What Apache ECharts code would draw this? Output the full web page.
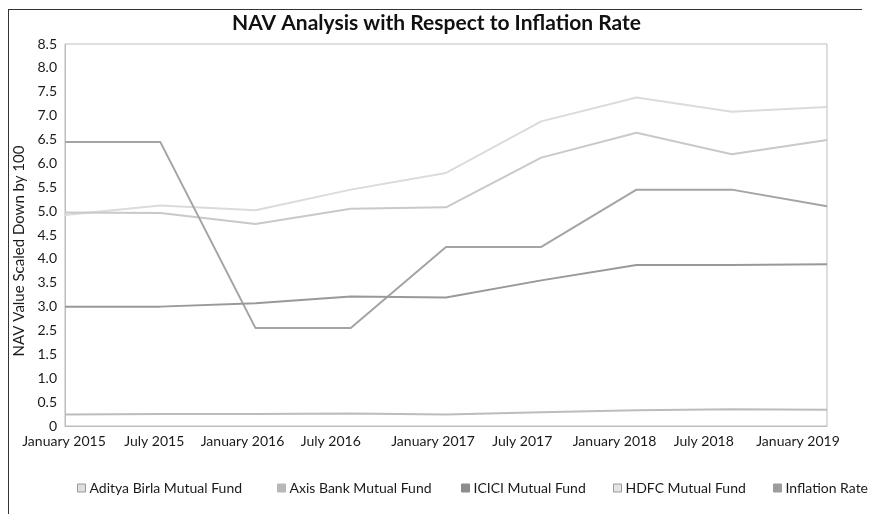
<!DOCTYPE html>
<html>
<head>
<meta charset="utf-8">
<script src="https://cdn.jsdelivr.net/npm/echarts@6/dist/echarts.min.js"></script>
<style>
  html, body { margin: 0; padding: 0; background: #fff; }
  #chart { width: 873px; height: 514px; }
</style>
</head>
<body>
<div id="chart"></div>
<script>
const categories = ['January 2015', 'July 2015', 'January 2016', 'July 2016', 'January 2017',
  'July 2017', 'January 2018', 'July 2018', 'January 2019']

// y tick labels as printed (note: 2.0 is skipped on the original axis)
const tickLabels = ['0', '0.5', '1.0', '1.5', '2.5', '3.0', '3.5', '4.0', '4.5', '5.0',
  '5.5', '6.0', '6.5', '7.0', '7.5', '8.0', '8.5']

const adityaBirla = [4.97, 4.96, 4.73, 5.05, 5.08, 6.12, 6.64, 6.19, 6.49]
const axisBank = [6.45, 6.45, 2.55, 2.55, 4.25, 4.25, 5.45, 5.45, 5.1]
const icici = [3.0, 3.0, 3.07, 3.21, 3.19, 3.55, 3.87, 3.87, 3.89]
const hdfc = [4.92, 5.12, 5.02, 5.45, 5.8, 6.88, 7.38, 7.08, 7.18]
const inflation = [0.24, 0.25, 0.25, 0.26, 0.24, 0.29, 0.33, 0.35, 0.34]

// the printed axis drops 2.0, so values above 1.5 sit half a step lower
function toAxis (v) {
  if (v <= 1.5) return v
  if (v >= 2.5) return v - 0.5
  return 1.5 + (v - 1.5) * 0.5
}

// how far each x label sits left of its data point (style only)
const labelShift = [2, 12, 26, 40, 26, 38, 44, 56, 58]

const font = 'Lato, "Open Sans", sans-serif'
const textColor = '#1a1a1a'

const seriesDefs = [
  { name: 'Aditya Birla Mutual Fund', data: adityaBirla, color: '#c9c9c9', z: 3 },
  { name: 'Axis Bank Mutual Fund', data: axisBank, color: '#a4a4a4', z: 4 },
  { name: 'ICICI Mutual Fund', data: icici, color: '#999999', z: 5 },
  { name: 'HDFC Mutual Fund', data: hdfc, color: '#dbdbdb', z: 2 },
  { name: 'Inflation Rate', data: inflation, color: '#bdbdbd', z: 1 }
]

const legendIcons = [
  { color: '#dedede', border: '#9a9a9a' },
  { color: '#b8b8b8', border: '#b8b8b8' },
  { color: '#8c8c8c', border: '#8c8c8c' },
  { color: '#e4e4e4', border: '#9a9a9a' },
  { color: '#9c9c9c', border: '#9c9c9c' }
]
const legendLeft = [72, 272, 456, 608, 768]

const rich = {}
labelShift.forEach((p, i) => {
  rich['o' + i] = { fontFamily: font, fontSize: 14, color: textColor, padding: [0, p, 0, 0] }
})

const chart = echarts.init(document.getElementById('chart'), null, { renderer: 'canvas' })

const option = {
  animation: false,
  backgroundColor: '#fff',
  title: {
    text: 'NAV Analysis with Respect to Inflation Rate',
    left: 'center',
    top: 8,
    textStyle: { fontFamily: font, fontSize: 21, fontWeight: 'bold', color: '#111' }
  },
  legend: seriesDefs.map((s, i) => ({
    data: [{
      name: s.name,
      itemStyle: { color: legendIcons[i].color, borderColor: legendIcons[i].border, borderWidth: 1 }
    }],
    left: legendLeft[i],
    top: 476,
    icon: 'rect',
    itemWidth: 8,
    itemHeight: 8,
    itemGap: 6,
    textStyle: { fontFamily: font, fontSize: 14, color: textColor, padding: [0, 0, 0, -1] }
  })),
  grid: {
    left: 65,
    right: 46,
    top: 44,
    bottom: 88,
    show: true,
    borderColor: '#bdbdbd',
    borderWidth: 1
  },
  xAxis: {
    type: 'category',
    data: categories,
    boundaryGap: false,
    axisLine: { lineStyle: { color: '#bdbdbd' } },
    axisTick: { show: false },
    splitLine: { show: false },
    axisLabel: {
      interval: 0,
      margin: 8,
      formatter: (val, idx) => '{o' + idx + '|' + val + '}',
      rich
    }
  },
  yAxis: {
    type: 'value',
    min: 0,
    max: 8,
    interval: 0.5,
    name: 'NAV Value Scaled Down by 100',
    nameLocation: 'middle',
    nameGap: 36,
    nameTextStyle: { fontFamily: font, fontSize: 15, color: textColor, padding: [0, 32, 0, 0] },
    axisLine: { show: true, lineStyle: { color: '#bdbdbd' } },
    axisTick: { show: false },
    splitLine: { show: false },
    axisLabel: {
      margin: 8,
      fontFamily: font,
      fontSize: 14,
      color: textColor,
      formatter: v => tickLabels[Math.round(v / 0.5)] || ''
    }
  },
  graphic: [
    { type: 'line', shape: { x1: 8.5, y1: 9, x2: 8.5, y2: 514 }, style: { stroke: '#333', lineWidth: 1 } },
    { type: 'line', shape: { x1: 8, y1: 9.5, x2: 862, y2: 9.5 }, style: { stroke: '#333', lineWidth: 1 } }
  ],
  series: seriesDefs.map(s => ({
    name: s.name,
    type: 'line',
    data: s.data.map(toAxis),
    showSymbol: false,
    symbol: 'none',
    z: s.z,
    lineStyle: { color: s.color, width: 2 },
    itemStyle: { color: s.color }
  }))
}

chart.setOption(option)
</script>
</body>
</html>
